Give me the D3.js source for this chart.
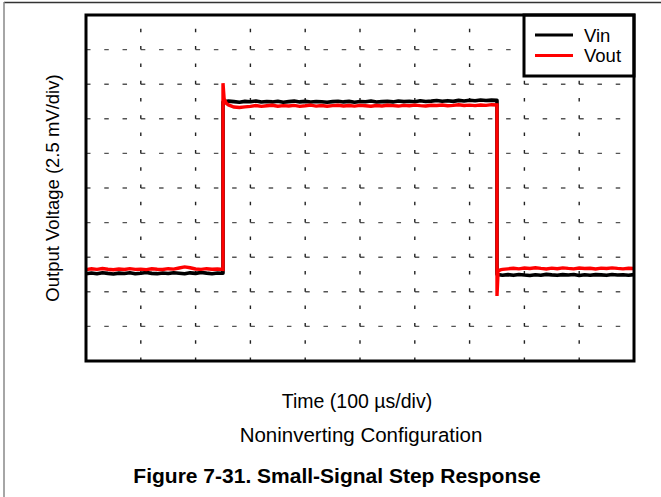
<!DOCTYPE html>
<html>
<head>
<meta charset="utf-8">
<script src="https://cdn.jsdelivr.net/npm/d3@7"></script>
<style>
  html, body { margin: 0; padding: 0; background: #fff; }
  svg { display: block; }
  text { font-family: "Liberation Sans", Arial, Helvetica, sans-serif; fill: #000; }
</style>
</head>
<body>
<svg id="chart" width="661" height="497"></svg>
<script>
// ---- Data (time in µs, voltage in mV; 100 µs/div, 2.5 mV/div) ----
const xDomain = [0, 1000];
const yDomain = [0, 25];
const xGridTicks = [100, 200, 300, 400, 500, 600, 700, 800, 900];
const yGridTicks = [2.5, 5, 7.5, 10, 12.5, 15, 17.5, 20, 22.5];

const seriesNames = ["Vin", "Vout"];

const vinTime = [
  0,10,20,30,40,50,60,70,80,90,100,110,120,130,140,150,160,170,180,190,200,210,220,230,240,250,
  250,260,270,280,290,300,310,320,330,340,350,360,370,380,390,400,410,420,430,440,
  450,460,470,480,490,500,510,520,530,540,550,560,570,580,590,600,610,620,630,640,
  650,660,670,680,690,700,710,720,730,740,750,
  750,760,770,780,790,800,810,820,830,840,850,860,870,880,890,900,910,920,930,940,950,960,970,980,990,1000
];
const vinValues = [
  6.30,6.36,6.31,6.38,6.33,6.29,6.35,6.32,6.37,6.30,6.34,6.39,6.33,6.31,6.36,6.32,6.38,6.34,6.30,6.37,6.33,6.40,6.35,6.31,6.36,6.34,
  18.72,18.78,18.74,18.70,18.76,18.73,18.79,18.71,18.75,18.72,18.77,18.70,18.74,18.78,18.72,18.76,18.71,18.75,18.73,18.69,
  18.74,18.77,18.72,18.76,18.70,18.75,18.73,18.78,18.71,18.74,18.76,18.72,18.79,18.74,18.77,18.73,18.80,18.75,18.78,18.82,
  18.77,18.81,18.76,18.83,18.79,18.84,18.80,18.86,18.82,18.85,18.83,
  6.26,6.20,6.24,6.19,6.25,6.21,6.18,6.23,6.20,6.26,6.22,6.19,6.24,6.21,6.25,6.18,6.23,6.20,6.24,6.22,6.19,6.25,6.21,6.23,6.20,6.24
];

const voutTime = [
  0,10,20,30,40,50,60,70,80,90,100,110,120,130,140,150,160,170,180,190,200,210,220,230,240,250,
  250,252,256,260,270,280,290,
  300,310,320,330,340,350,360,370,380,390,400,410,420,430,440,450,460,470,480,490,
  500,510,520,530,540,550,560,570,580,590,600,610,620,630,640,650,660,670,680,690,
  700,710,720,730,740,750,
  750,752,756,760,770,
  780,790,800,810,820,830,840,850,860,870,880,890,900,910,920,930,940,950,960,970,980,990,1000
];
const voutValues = [
  6.60,6.66,6.62,6.68,6.63,6.59,6.65,6.61,6.67,6.62,6.64,6.60,6.66,6.63,6.61,6.67,6.64,6.72,6.80,6.74,6.65,6.62,6.67,6.63,6.65,6.62,
  20.07,18.95,18.62,18.50,18.35,18.32,18.36,
  18.40,18.46,18.40,18.44,18.48,18.41,18.45,18.43,18.47,18.40,18.44,18.49,18.42,18.46,18.41,18.45,18.48,18.43,18.46,18.42,
  18.47,18.44,18.41,18.46,18.43,18.48,18.45,18.42,18.47,18.44,18.49,18.45,18.43,18.48,18.46,18.50,18.44,18.47,18.51,18.46,
  18.49,18.45,18.50,18.47,18.52,18.50,
  4.70,6.50,6.58,6.62,6.66,
  6.70,6.66,6.72,6.68,6.74,6.69,6.65,6.71,6.67,6.73,6.69,6.66,6.72,6.68,6.70,6.65,6.71,6.68,6.73,6.69,6.66,6.70,6.68
];

// ---- Layout ----
const svg = d3.select("#chart");
const plot = { left: 86, right: 634, top: 15, bottom: 361 };

const x = d3.scaleLinear().domain(xDomain).range([plot.left, plot.right]);
const y = d3.scaleLinear().domain(yDomain).range([plot.bottom, plot.top]);

// page frame (top and left only)
svg.append("line").attr("x1", 4).attr("x2", 661).attr("y1", 2.5).attr("y2", 2.5)
  .attr("stroke", "#333").attr("stroke-width", 1.5);
svg.append("line").attr("x1", 4).attr("x2", 4).attr("y1", 2).attr("y2", 497)
  .attr("stroke", "#888").attr("stroke-width", 1.5);

// ---- Grid (oscilloscope-style dashes) ----
const hPeriod = (plot.right - plot.left) / 30;
const vPeriod = (plot.bottom - plot.top) / 20;
const grid = svg.append("g");
grid.selectAll("line.h").data(yGridTicks).join("line")
  .attr("class", "h")
  .attr("x1", plot.left).attr("x2", plot.right)
  .attr("y1", d => y(d)).attr("y2", d => y(d))
  .attr("stroke", "#555").attr("stroke-width", 1.4)
  .attr("stroke-dasharray", `4.5 ${hPeriod - 4.5}`);
grid.selectAll("line.v").data(xGridTicks).join("line")
  .attr("class", "v")
  .attr("x1", d => x(d)).attr("x2", d => x(d))
  .attr("y1", plot.bottom).attr("y2", plot.top)
  .attr("stroke", "#222").attr("stroke-width", 1.4)
  .attr("stroke-dasharray", `3.5 ${vPeriod - 3.5}`);

// ---- Traces ----
const line = d3.line().x(d => x(d[0])).y(d => y(d[1]));
const vinData = vinTime.map((t, i) => [t, vinValues[i]]);
const voutData = voutTime.map((t, i) => [t, voutValues[i]]);
const colors = { Vin: "#000000", Vout: "#ff0000" };

svg.append("path").datum(vinData).attr("d", line)
  .attr("fill", "none").attr("stroke", colors.Vin).attr("stroke-width", 3.6)
  .attr("stroke-linejoin", "round");
svg.append("path").datum(voutData).attr("d", line)
  .attr("fill", "none").attr("stroke", colors.Vout).attr("stroke-width", 3.4)
  .attr("stroke-linejoin", "miter");

// ---- Legend ----
const lg = svg.append("g");
lg.append("rect").attr("x", 524).attr("y", plot.top).attr("width", plot.right - 524).attr("height", 61)
  .attr("fill", "#fff").attr("stroke", "#000").attr("stroke-width", 3);
seriesNames.forEach((name, i) => {
  const ly = 35 + i * 20.5;
  lg.append("line").attr("x1", 535).attr("x2", 573).attr("y1", ly).attr("y2", ly)
    .attr("stroke", colors[name]).attr("stroke-width", 3);
  lg.append("text").attr("x", 584).attr("y", ly + 6.5)
    .attr("font-size", 18.5).text(name);
});

// ---- Plot border ----
svg.append("rect").attr("x", plot.left).attr("y", plot.top)
  .attr("width", plot.right - plot.left).attr("height", plot.bottom - plot.top)
  .attr("fill", "none").attr("stroke", "#000").attr("stroke-width", 3);

// ---- Texts ----
svg.append("text").attr("transform", "translate(59,188) rotate(-90)")
  .attr("text-anchor", "middle").attr("font-size", 18.5)
  .text("Output Voltage (2.5 mV/div)");
svg.append("text").attr("x", 357).attr("y", 408)
  .attr("text-anchor", "middle").attr("font-size", 19.5)
  .text("Time (100 µs/div)");
svg.append("text").attr("x", 361).attr("y", 442)
  .attr("text-anchor", "middle").attr("font-size", 20.5)
  .text("Noninverting Configuration");
svg.append("text").attr("x", 337).attr("y", 483)
  .attr("text-anchor", "middle").attr("font-size", 21).attr("font-weight", "bold")
  .text("Figure 7-31. Small-Signal Step Response");
</script>
</body>
</html>
